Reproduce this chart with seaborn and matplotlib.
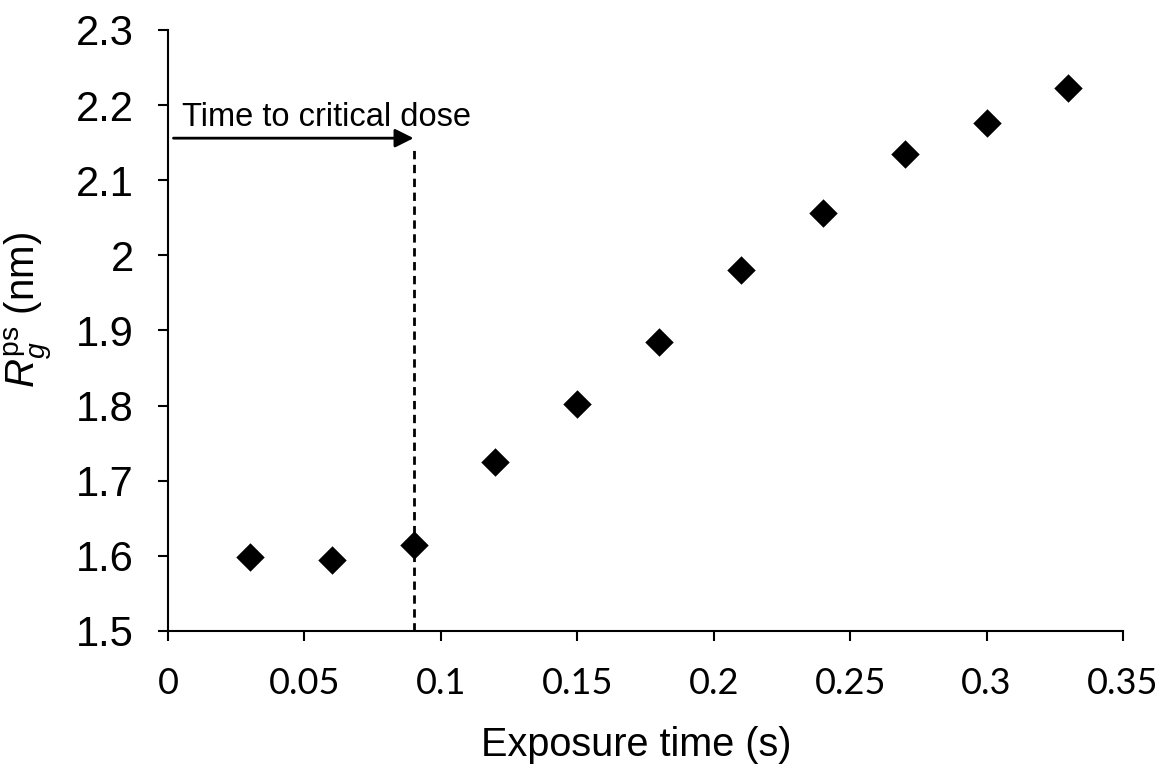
import numpy as np
import pandas as pd
import matplotlib
matplotlib.use("Agg")
import matplotlib.pyplot as plt
import seaborn as sns

# valores
exposure_time = [0.03, 0.06, 0.09, 0.12, 0.15, 0.18, 0.21, 0.24, 0.27, 0.30, 0.33]
rg_ps = [1.598, 1.595, 1.614, 1.725, 1.802, 1.885, 1.981, 2.056, 2.135, 2.176, 2.223]
critical_time = 0.09
arrow_y = 2.156
dash_top = 2.142

x_ticks = [0, 0.05, 0.1, 0.15, 0.2, 0.25, 0.3, 0.35]
x_labels = ["0", "0.05", "0.1", "0.15", "0.2", "0.25", "0.3", "0.35"]
y_ticks = [1.5, 1.6, 1.7, 1.8, 1.9, 2.0, 2.1, 2.2, 2.3]
y_labels = ["1.5", "1.6", "1.7", "1.8", "1.9", "2", "2.1", "2.2", "2.3"]

df = pd.DataFrame({"t": exposure_time, "rg": rg_ps})

sns.set_theme(style="white")
plt.rcParams["font.family"] = ["Liberation Sans", "DejaVu Sans"]
plt.rcParams["mathtext.fontset"] = "custom"
plt.rcParams["mathtext.rm"] = "Liberation Sans"
plt.rcParams["mathtext.it"] = "Liberation Sans:italic"
plt.rcParams["text.color"] = "black"
plt.rcParams["axes.labelcolor"] = "black"
plt.rcParams["xtick.color"] = "black"
plt.rcParams["ytick.color"] = "black"

fig = plt.figure(figsize=(11.61, 7.69), dpi=100)
ax = fig.add_axes([0.1447, 0.1795, 0.8226, 0.7815])

sns.scatterplot(data=df, x="t", y="rg", marker="D", s=210, color="black",
                edgecolor="black", linewidth=0, ax=ax, zorder=3)

# linha tracejada e seta do tempo até a dose crítica
ax.plot([critical_time, critical_time], [1.5, dash_top], color="black",
        linestyle=(0, (3, 2)), linewidth=2)
ax.annotate("", xy=(critical_time, arrow_y), xytext=(0.002, arrow_y),
            arrowprops=dict(arrowstyle="-|>", color="black", lw=2,
                            mutation_scale=28, shrinkA=0, shrinkB=0))
ax.text(0.005, 2.172, "Time to critical dose", fontsize=23.5, color="black",
        ha="left", va="baseline")

ax.set_xlim(0, 0.35)
ax.set_ylim(1.5, 2.3)
ax.set_xticks(x_ticks)
ax.set_xticklabels(x_labels, family=["Lato", "DejaVu Sans"], fontsize=26)
ax.set_yticks(y_ticks)
ax.set_yticklabels(y_labels, fontsize=30)
ax.tick_params(axis="both", direction="out", length=7, width=1.5,
               color="black", bottom=True, left=True)
ax.tick_params(axis="y", pad=17.5)
ax.tick_params(axis="x", pad=19)

for side in ["top", "right"]:
    ax.spines[side].set_visible(False)
for side in ["left", "bottom"]:
    ax.spines[side].set_color("black")
    ax.spines[side].set_linewidth(1.5)

ax.set_xlabel("Exposure time (s)", fontsize=28.5)
ax.set_ylabel(r"$R_g^{\mathrm{ps}}$ (nm)", fontsize=29)
ax.xaxis.set_label_coords(0.49, -0.158)
ax.yaxis.set_label_coords(-0.118, 0.534)

fig.savefig("out.png", dpi=100)
